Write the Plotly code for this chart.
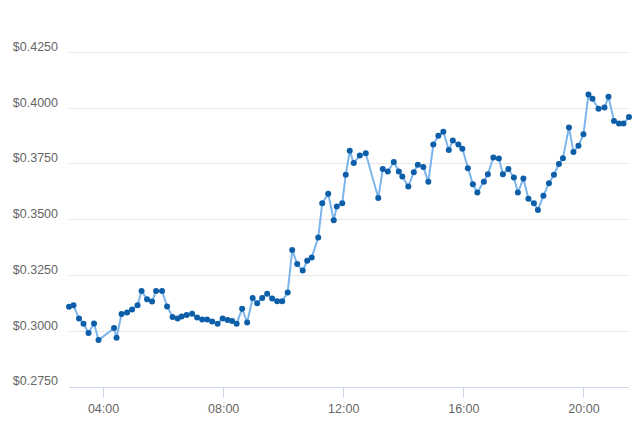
import plotly.graph_objects as go

date = "2024-01-01"
times = [
    "02:51", "03:00", "03:11", "03:20", "03:30", "03:41", "03:50", "04:21", "04:26", "04:36",
    "04:47", "04:57", "05:08", "05:16", "05:27", "05:37", "05:45", "05:57", "06:07", "06:18",
    "06:28", "06:36", "06:46", "06:57", "07:07", "07:17", "07:27", "07:37", "07:48", "07:58",
    "08:08", "08:17", "08:26", "08:37", "08:47", "08:58", "09:07", "09:17", "09:27", "09:37",
    "09:47", "09:57", "10:08", "10:17", "10:27", "10:38", "10:47", "10:56", "11:09", "11:17",
    "11:29", "11:40", "11:46", "11:57", "12:04", "12:12", "12:20", "12:32", "12:44", "13:09",
    "13:18", "13:28", "13:40", "13:50", "13:57", "14:09", "14:20", "14:28", "14:39", "14:49",
    "14:59", "15:09", "15:19", "15:30", "15:38", "15:49", "15:57", "16:08", "16:18", "16:27",
    "16:40", "16:48", "16:59", "17:10", "17:18", "17:29", "17:40", "17:48", "17:59", "18:09",
    "18:20", "18:28", "18:39", "18:50", "19:00", "19:10", "19:18", "19:30", "19:39", "19:49",
    "19:59", "20:09", "20:17", "20:29", "20:41", "20:49", "21:00", "21:10", "21:19", "21:30",
]
prices = [
    0.3110, 0.3116, 0.3057, 0.3034, 0.2992, 0.3035, 0.2961, 0.3014, 0.2971, 0.3077,
    0.3084, 0.3098, 0.3116, 0.3181, 0.3144, 0.3133, 0.3181, 0.3181, 0.3111, 0.3064,
    0.3057, 0.3066, 0.3073, 0.3078, 0.3062, 0.3053, 0.3053, 0.3044, 0.3034, 0.3057,
    0.3050, 0.3046, 0.3034, 0.3101, 0.3039, 0.3149, 0.3125, 0.3149, 0.3168, 0.3147,
    0.3135, 0.3135, 0.3174, 0.3364, 0.3301, 0.3272, 0.3316, 0.3331, 0.3420, 0.3574,
    0.3617, 0.3498, 0.3559, 0.3574, 0.3702, 0.3809, 0.3754, 0.3788, 0.3798, 0.3597,
    0.3727, 0.3716, 0.3759, 0.3716, 0.3694, 0.3649, 0.3713, 0.3747, 0.3736, 0.3670,
    0.3837, 0.3876, 0.3894, 0.3813, 0.3855, 0.3837, 0.3818, 0.3731, 0.3659, 0.3622,
    0.3670, 0.3704, 0.3779, 0.3774, 0.3704, 0.3727, 0.3689, 0.3622, 0.3685, 0.3594,
    0.3574, 0.3544, 0.3608, 0.3664, 0.3702, 0.3750, 0.3776, 0.3913, 0.3804, 0.3832,
    0.3883, 0.4061, 0.4042, 0.3998, 0.4003, 0.4051, 0.3943, 0.3931, 0.3931, 0.3961,
]
x_ticks = ["04:00", "08:00", "12:00", "16:00", "20:00"]
y_ticks = [0.275, 0.300, 0.325, 0.350, 0.375, 0.400, 0.425]

xs = [f"{date} {t}" for t in times]

fig = go.Figure(go.Scatter(
    x=xs, y=prices, mode="lines+markers",
    line=dict(color="#7cb5ec", width=2),
    marker=dict(color="#0d5ea8", size=6),
    cliponaxis=False,
))

font = "Liberation Sans, Arial, sans-serif"
fig.update_layout(
    width=632, height=419,
    margin=dict(l=61, r=11, t=39.5, b=40),
    paper_bgcolor="white", plot_bgcolor="white",
    showlegend=False,
    font=dict(family=font, size=12, color="#666666"),
    xaxis=dict(
        range=[xs[0], xs[-1]],
        tickvals=[f"{date} {t}" for t in x_ticks],
        ticktext=x_ticks,
        showgrid=False, zeroline=False,
        showline=True, linecolor="#ccd6eb", linewidth=1,
        ticks="outside", ticklen=10, tickcolor="#ccd6eb", tickwidth=1,
        tickfont=dict(family=font, size=12.5, color="#666666"),
        automargin=False,
    ),
    yaxis=dict(
        range=[0.275, 0.427],
        tickvals=y_ticks,
        ticktext=[f"${v:.4f}" for v in y_ticks],
        showgrid=True, gridcolor="#e6e6e6", gridwidth=1,
        zeroline=False, showline=False, ticks="",
        ticklabelshift=-6,
        ticklabelstandoff=10,
        tickfont=dict(family=font, size=12.5, color="#666666"),
        automargin=False,
    ),
)

fig.write_html("out.html")
